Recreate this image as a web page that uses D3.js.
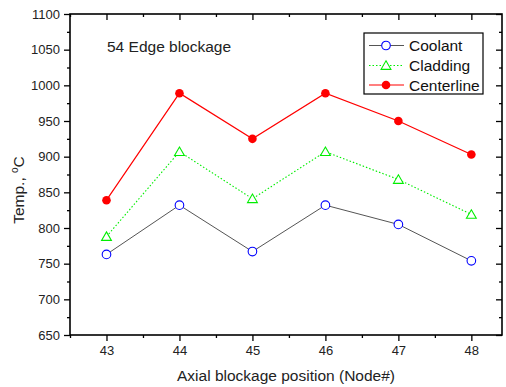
<!DOCTYPE html>
<html>
<head>
<meta charset="utf-8">
<script src="https://cdn.jsdelivr.net/npm/d3@7"></script>
<style>
  html, body { margin: 0; padding: 0; background: #fff; }
  svg { display: block; font-family: Arial, "Liberation Sans", sans-serif; }
</style>
</head>
<body>
<div id="chart"></div>
<script>
const nodes = [43, 44, 45, 46, 47, 48];
const coolant = [763, 832, 767, 832, 805, 754];
const cladding = [788, 907, 841, 907, 868, 819];
const centerline = [839, 989, 925, 989, 950, 903];
const yTicks = [650, 700, 750, 800, 850, 900, 950, 1000, 1050, 1100];
const seriesNames = ["Coolant", "Cladding", "Centerline"];

function renderChart(selector = "#chart") {
    const width = 506;
    const height = 387;
    const margin = { top: 14, right: 4, bottom: 52, left: 70 };

    const svg = d3.select(selector).append("svg")
        .attr("width", width)
        .attr("height", height);

    const x = d3.scaleLinear()
        .domain([42.5, 48.42])
        .range([margin.left, width - margin.right]);

    const y = d3.scaleLinear()
        .domain([650, 1100])
        .range([height - margin.bottom, margin.top]);

    const majorX = nodes;
    const minorX = d3.range(42.5, 48.5, 1);
    const minorY = d3.range(675, 1100, 50);

    const x0 = x.range()[0], x1 = x.range()[1];
    const y0 = y.range()[0], y1 = y.range()[1];

    // bottom axis, ticks outward
    svg.append("g")
        .attr("transform", `translate(0,${y0})`)
        .call(d3.axisBottom(x).tickValues(majorX).tickFormat(d3.format("d")).tickSize(6).tickPadding(5))
        .call(g => g.select(".domain").remove())
        .call(g => g.selectAll("text").attr("font-size", 13).attr("fill", "#222"));
    svg.append("g")
        .attr("transform", `translate(0,${y0})`)
        .call(d3.axisBottom(x).tickValues(minorX).tickFormat("").tickSize(3))
        .call(g => g.select(".domain").remove());

    // left axis, ticks outward
    svg.append("g")
        .attr("transform", `translate(${x0},0)`)
        .call(d3.axisLeft(y).tickValues(yTicks).tickFormat(d3.format("d")).tickSize(6).tickPadding(4))
        .call(g => g.select(".domain").remove())
        .call(g => g.selectAll("text").attr("font-size", 13).attr("fill", "#222"));
    svg.append("g")
        .attr("transform", `translate(${x0},0)`)
        .call(d3.axisLeft(y).tickValues(minorY).tickFormat("").tickSize(3))
        .call(g => g.select(".domain").remove());

    // top axis, ticks inward
    svg.append("g")
        .attr("transform", `translate(0,${y1})`)
        .call(d3.axisBottom(x).tickValues(majorX).tickFormat("").tickSize(6))
        .call(g => g.select(".domain").remove());
    svg.append("g")
        .attr("transform", `translate(0,${y1})`)
        .call(d3.axisBottom(x).tickValues(minorX).tickFormat("").tickSize(3))
        .call(g => g.select(".domain").remove());

    // right axis, ticks inward
    svg.append("g")
        .attr("transform", `translate(${x1},0)`)
        .call(d3.axisLeft(y).tickValues(yTicks).tickFormat("").tickSize(6))
        .call(g => g.select(".domain").remove());
    svg.append("g")
        .attr("transform", `translate(${x1},0)`)
        .call(d3.axisLeft(y).tickValues(minorY).tickFormat("").tickSize(3))
        .call(g => g.select(".domain").remove());

    svg.selectAll(".tick line").attr("stroke", "#000").attr("stroke-width", 1.3);

    // frame
    svg.append("rect")
        .attr("x", x0).attr("y", y1)
        .attr("width", x1 - x0).attr("height", y0 - y1)
        .attr("fill", "none").attr("stroke", "#000").attr("stroke-width", 1.6);

    const line = d3.line().x((d, i) => x(nodes[i])).y(d => y(d));

    const triangle = d3.symbol().type(d3.symbolTriangle).size(42);

    // coolant
    svg.append("path").datum(coolant)
        .attr("d", line).attr("fill", "none").attr("stroke", "#555").attr("stroke-width", 1);
    // cladding
    svg.append("path").datum(cladding)
        .attr("d", line).attr("fill", "none").attr("stroke", "#00ee00")
        .attr("stroke-width", 1.1).attr("stroke-dasharray", "1.5,2");
    // centerline
    svg.append("path").datum(centerline)
        .attr("d", line).attr("fill", "none").attr("stroke", "#ff0000").attr("stroke-width", 1.2);

    svg.append("g").selectAll("circle").data(coolant).join("circle")
        .attr("cx", (d, i) => x(nodes[i])).attr("cy", d => y(d)).attr("r", 4.3)
        .attr("fill", "#fff").attr("stroke", "#0000ff").attr("stroke-width", 1.1);
    svg.append("g").selectAll("path").data(cladding).join("path")
        .attr("transform", (d, i) => `translate(${x(nodes[i])},${y(d) + 1})`)
        .attr("d", triangle)
        .attr("fill", "#fff").attr("stroke", "#00ee00").attr("stroke-width", 1.1);
    svg.append("g").selectAll("circle").data(centerline).join("circle")
        .attr("cx", (d, i) => x(nodes[i])).attr("cy", d => y(d)).attr("r", 4.3)
        .attr("fill", "#ff0000");

    // annotation
    svg.append("text")
        .attr("x", 107).attr("y", 52)
        .attr("font-size", 15.5).attr("fill", "#222")
        .text("54 Edge blockage");

    // legend
    const lg = svg.append("g").attr("transform", "translate(364,33)");
    lg.append("rect").attr("width", 119).attr("height", 61)
        .attr("fill", "#fff").attr("stroke", "#000").attr("stroke-width", 1.2);
    const rows = [12.5, 32.5, 52];
    const strokes = ["#555", "#00ee00", "#ff0000"];
    seriesNames.forEach((name, i) => {
        const r = lg.append("g").attr("transform", `translate(0,${rows[i]})`);
        r.append("line").attr("x1", 5).attr("x2", 40).attr("y1", 0).attr("y2", 0)
            .attr("stroke", strokes[i]).attr("stroke-width", 1.1)
            .attr("stroke-dasharray", i === 1 ? "1.5,2" : null);
        if (i === 0) {
            r.append("circle").attr("cx", 22).attr("r", 4.3)
                .attr("fill", "#fff").attr("stroke", "#0000ff").attr("stroke-width", 1.1);
        } else if (i === 1) {
            r.append("path").attr("transform", "translate(22,1)").attr("d", triangle)
                .attr("fill", "#fff").attr("stroke", "#00ee00").attr("stroke-width", 1.1);
        } else {
            r.append("circle").attr("cx", 22).attr("r", 4.3).attr("fill", "#ff0000");
        }
        r.append("text").attr("x", 45).attr("y", 5.5)
            .attr("font-size", 15.5).attr("fill", "#111").text(name);
    });

    // axis titles
    svg.append("text")
        .attr("x", (x0 + x1) / 2).attr("y", 381)
        .attr("text-anchor", "middle").attr("font-size", 15.5).attr("fill", "#222")
        .text("Axial blockage position (Node#)");

    const yt = svg.append("text")
        .attr("transform", "translate(24,190) rotate(-90)")
        .attr("text-anchor", "middle").attr("font-size", 15.5).attr("fill", "#222");
    yt.append("tspan").text("Temp., ");
    yt.append("tspan").attr("font-size", 10).attr("dy", -6).text("o");
    yt.append("tspan").attr("dy", 6).text("C");
}

renderChart();
</script>
</body>
</html>
